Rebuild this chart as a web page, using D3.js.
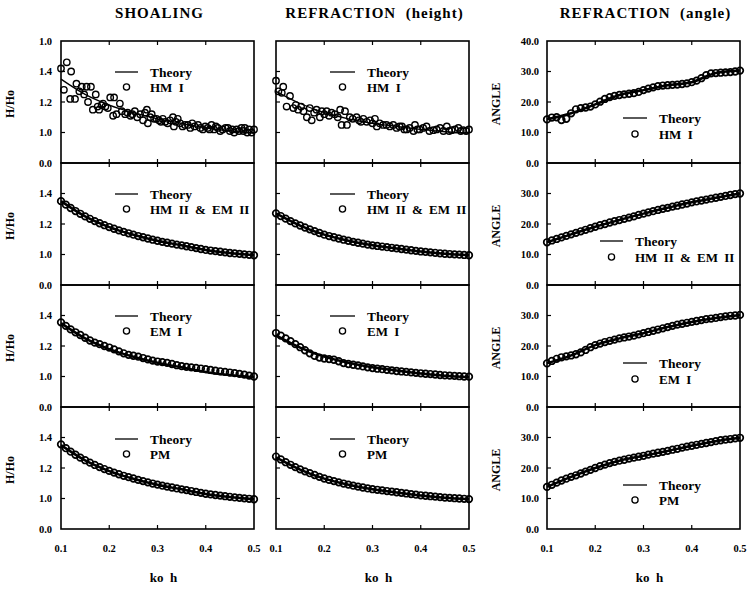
<!DOCTYPE html>
<html><head><meta charset="utf-8">
<script src="https://cdn.jsdelivr.net/npm/d3@7"></script>
<style>
html,body{margin:0;padding:0;background:#fff;}
svg text{font-family:"Liberation Serif","DejaVu Serif",serif;font-weight:bold;fill:#000;}
</style></head>
<body><svg id="c" width="748" height="589"></svg>
<script>
// ---------------- DATA ----------------
const columnTitles = ["SHOALING", "REFRACTION  (height)", "REFRACTION  (angle)"];
const rowSeries = ["HM I", "HM II & EM II", "EM I", "PM"];
const xTicks = [0.1, 0.2, 0.3, 0.4, 0.5];
const xTickLabels = ["0.1", "0.2", "0.3", "0.4", "0.5"];
const hTickVals = [0.8, 1.0, 1.2, 1.4];
const hTickLabels = ["0.0", "1.0", "1.2", "1.4"];
const hTopTickLabel = "1.0";
const aTickVals = [0, 10, 20, 30];
const aTickLabels = ["0.0", "10.0", "20.0", "30.0"];
const aTopTickLabel = "40.0";

const theoryKh = [0.10, 0.15, 0.20, 0.25, 0.30, 0.35, 0.40, 0.45, 0.50];
const shoalTheory = [1.35, 1.25, 1.18, 1.13, 1.09, 1.06, 1.03, 1.01, 0.995];
const refHTheory = [1.27, 1.19, 1.13, 1.09, 1.06, 1.04, 1.02, 1.005, 0.995];
const angleTheoryHM1 = [14.3, 16.3, 19.2, 22.3, 23.9, 25.5, 26.5, 29.5, 30.3];
const angleTheoryHM2 = [14.0, 16.6, 19.1, 21.3, 23.4, 25.3, 27.1, 28.6, 30.0];
const angleTheoryEM1 = [14.3, 16.9, 20.3, 22.5, 24.2, 26.2, 27.9, 29.2, 30.2];
const angleTheoryPM = [13.8, 17.1, 20.0, 22.4, 24.0, 25.6, 27.3, 28.8, 29.9];

const khGrid = [0.10,0.11,0.12,0.13,0.14,0.15,0.16,0.17,0.18,0.19,0.20,0.21,0.22,0.23,0.24,0.25,0.26,0.27,0.28,0.29,0.30,
  0.31,0.32,0.33,0.34,0.35,0.36,0.37,0.38,0.39,0.40,0.41,0.42,0.43,0.44,0.45,0.46,0.47,0.48,0.49,0.50];

// noisy HM I measurements [ko h, H/Ho]
const shoalHM1 = [[0.100,1.42],[0.106,1.28],[0.112,1.46],[0.119,1.22],[0.121,1.40],[0.129,1.22],[0.132,1.32],[0.138,1.27],
  [0.143,1.30],[0.148,1.25],[0.153,1.30],[0.156,1.20],[0.162,1.30],[0.166,1.15],[0.172,1.25],[0.176,1.17],[0.179,1.15],
  [0.184,1.18],[0.187,1.19],[0.192,1.17],[0.197,1.16],[0.202,1.23],[0.208,1.11],[0.210,1.23],[0.215,1.12],[0.222,1.19],
  [0.226,1.14],[0.233,1.12],[0.238,1.13],[0.244,1.11],[0.248,1.12],[0.253,1.14],[0.258,1.10],[0.264,1.12],[0.270,1.08],
  [0.274,1.13],[0.278,1.15],[0.280,1.06],[0.285,1.10],[0.288,1.12],[0.293,1.09],[0.298,1.09],[0.303,1.08],[0.307,1.07],
  [0.311,1.09],[0.316,1.07],[0.321,1.06],[0.326,1.08],[0.332,1.10],[0.334,1.04],[0.338,1.07],[0.342,1.09],[0.347,1.06],
  [0.352,1.04],[0.357,1.05],[0.363,1.05],[0.368,1.03],[0.372,1.06],[0.377,1.04],[0.384,1.05],[0.389,1.03],[0.394,1.02],
  [0.399,1.04],[0.404,1.03],[0.408,1.02],[0.412,1.05],[0.417,1.02],[0.421,1.04],[0.425,1.03],[0.430,1.01],[0.435,1.02],
  [0.441,1.03],[0.446,1.03],[0.450,1.01],[0.455,1.02],[0.459,1.00],[0.464,1.02],[0.469,1.01],[0.474,1.03],[0.478,1.01],
  [0.481,1.03],[0.486,1.00],[0.490,1.02],[0.495,1.00],[0.500,1.02]];
const refHHM1 = [[0.100,1.34],[0.105,1.27],[0.112,1.26],[0.115,1.30],[0.122,1.17],[0.129,1.24],[0.136,1.16],[0.141,1.18],
  [0.146,1.15],[0.152,1.17],[0.157,1.14],[0.164,1.10],[0.170,1.16],[0.174,1.08],[0.179,1.13],[0.184,1.15],[0.191,1.10],
  [0.195,1.14],[0.200,1.12],[0.205,1.14],[0.210,1.11],[0.215,1.13],[0.222,1.12],[0.228,1.10],[0.233,1.15],[0.236,1.05],
  [0.243,1.14],[0.247,1.05],[0.253,1.10],[0.259,1.09],[0.267,1.10],[0.272,1.08],[0.276,1.07],[0.281,1.09],[0.288,1.07],
  [0.295,1.08],[0.300,1.06],[0.305,1.09],[0.309,1.04],[0.315,1.06],[0.322,1.05],[0.329,1.05],[0.336,1.04],[0.343,1.05],
  [0.350,1.03],[0.356,1.04],[0.361,1.04],[0.366,1.02],[0.371,1.02],[0.377,1.03],[0.385,1.01],[0.388,1.05],[0.393,1.02],
  [0.398,1.02],[0.405,1.03],[0.412,1.04],[0.418,1.01],[0.426,1.015],[0.433,1.02],[0.440,1.03],[0.447,1.01],[0.454,1.04],
  [0.459,1.01],[0.464,1.015],[0.471,1.02],[0.478,1.03],[0.483,1.01],[0.488,1.015],[0.494,1.01],[0.500,1.02]];

// dense measurements on khGrid
const angleHM1 = [14.3,14.9,15.0,14.1,14.5,16.3,17.6,18.0,18.2,18.5,19.2,20.1,21.0,21.6,22.0,22.3,22.5,22.7,22.9,23.3,23.9,
  24.4,24.8,25.2,25.4,25.5,25.6,25.7,25.9,26.1,26.5,27.0,27.8,28.8,29.4,29.5,29.6,29.7,29.8,30.0,30.3];
const shoalHM2 = [1.350,1.327,1.305,1.285,1.267,1.250,1.234,1.219,1.205,1.192,1.180,1.169,1.158,1.148,1.139,1.130,1.121,
  1.113,1.105,1.097,1.090,1.083,1.077,1.071,1.065,1.060,1.054,1.048,1.042,1.036,1.030,1.026,1.022,1.018,1.014,1.010,1.007,
  1.004,1.001,0.998,0.995];
const refHHM2 = [1.270,1.252,1.235,1.219,1.204,1.190,1.177,1.165,1.153,1.141,1.130,1.121,1.113,1.105,1.097,1.090,1.083,
  1.077,1.071,1.065,1.060,1.056,1.052,1.048,1.044,1.040,1.036,1.032,1.028,1.024,1.020,1.017,1.014,1.011,1.008,1.005,1.003,
  1.001,0.999,0.997,0.995];
const angleHM2 = [14.0,14.6,15.1,15.6,16.1,16.6,17.1,17.6,18.1,18.6,19.1,19.6,20.0,20.5,20.9,21.3,21.7,22.1,22.5,23.0,23.4,
  23.8,24.2,24.6,25.0,25.3,25.7,26.0,26.4,26.7,27.1,27.4,27.7,28.0,28.3,28.6,28.9,29.2,29.5,29.8,30.0];
const shoalEM1 = [1.355,1.332,1.309,1.290,1.272,1.254,1.236,1.222,1.212,1.200,1.190,1.178,1.165,1.152,1.142,1.136,1.130,
  1.121,1.112,1.104,1.098,1.094,1.089,1.082,1.074,1.068,1.063,1.060,1.056,1.052,1.048,1.043,1.038,1.034,1.030,1.026,1.022,
  1.017,1.012,1.006,1.000];
const refHEM1 = [1.285,1.268,1.250,1.232,1.212,1.192,1.172,1.152,1.135,1.124,1.118,1.114,1.110,1.100,1.088,1.082,1.077,
  1.072,1.066,1.060,1.055,1.051,1.048,1.044,1.040,1.036,1.033,1.030,1.027,1.024,1.021,1.018,1.016,1.013,1.010,1.008,1.006,
  1.004,1.002,1.000,0.999];
const angleEM1 = [14.3,15.1,15.8,16.3,16.6,16.9,17.3,17.9,18.7,19.6,20.3,20.8,21.3,21.7,22.1,22.5,22.8,23.1,23.4,23.8,24.2,
  24.6,25.0,25.4,25.8,26.2,26.6,27.0,27.3,27.6,27.9,28.2,28.5,28.8,29.0,29.2,29.5,29.7,29.9,30.0,30.2];
const shoalPM = [1.355,1.330,1.307,1.287,1.268,1.251,1.235,1.220,1.206,1.193,1.181,1.170,1.159,1.149,1.140,1.131,1.122,
  1.114,1.106,1.098,1.091,1.084,1.078,1.072,1.066,1.060,1.055,1.049,1.043,1.037,1.031,1.027,1.023,1.019,1.015,1.011,1.007,
  1.004,1.001,0.998,0.995];
const refHPM = [1.275,1.256,1.238,1.221,1.206,1.191,1.178,1.166,1.154,1.142,1.131,1.122,1.114,1.106,1.098,1.091,1.084,
  1.078,1.072,1.066,1.061,1.057,1.053,1.049,1.045,1.041,1.037,1.033,1.029,1.025,1.021,1.018,1.015,1.012,1.009,1.006,1.004,
  1.002,1.000,0.998,0.996];
const anglePM = [13.8,14.5,15.2,15.9,16.5,17.1,17.6,18.2,18.8,19.4,20.0,20.6,21.1,21.6,22.0,22.4,22.7,23.1,23.4,23.7,24.0,
  24.4,24.7,25.0,25.3,25.6,26.0,26.3,26.7,27.0,27.3,27.6,27.9,28.2,28.5,28.8,29.1,29.3,29.5,29.7,29.9];

// ---------------- LAYOUT ----------------
const svg = d3.select("#c");
const colX = [61, 276, 547];
const panelW = 193;
const row0 = 41, rowH = 122;

const hDomain = [0.8, 1.6];
const aDomain = [0, 40];

const gridPairs = arr => arr.map((v, i) => [khGrid[i], v]);
const panels = [
  [ {type:"h", theory: shoalTheory, data: shoalHM1, dense:false}, {type:"h", theory: refHTheory, data: refHHM1, dense:false}, {type:"a", theory: angleTheoryHM1, data: gridPairs(angleHM1), dense:true} ],
  [ {type:"h", theory: shoalTheory, data: gridPairs(shoalHM2), dense:true}, {type:"h", theory: refHTheory, data: gridPairs(refHHM2), dense:true}, {type:"a", theory: angleTheoryHM2, data: gridPairs(angleHM2), dense:true} ],
  [ {type:"h", theory: shoalTheory, data: gridPairs(shoalEM1), dense:true}, {type:"h", theory: refHTheory, data: gridPairs(refHEM1), dense:true}, {type:"a", theory: angleTheoryEM1, data: gridPairs(angleEM1), dense:true} ],
  [ {type:"h", theory: shoalTheory, data: gridPairs(shoalPM), dense:true}, {type:"h", theory: refHTheory, data: gridPairs(refHPM), dense:true}, {type:"a", theory: angleTheoryPM, data: gridPairs(anglePM), dense:true} ]
];
// legend placement (relative to panel): [lineX0, lineX1, textX, theoryY, seriesY]
const legendPos = [
  [[54,77,89,31,46],[54,79,91,31,46],[76,100,112,77,93]],
  [[54,77,89,31,46],[54,79,91,31,46],[53,76,88,78,94]],
  [[54,77,89,31,46],[54,79,91,31,46],[76,100,112,78,94]],
  [[54,77,89,32,47],[54,79,91,32,47],[76,100,112,78,93]]
];

columnTitles.forEach((t, c) => {
  svg.append("text").attr("x", colX[c] + panelW/2 + 2).attr("y", 18)
    .attr("text-anchor", "middle").style("font-size", "15px").style("letter-spacing", "1px")
    .attr("xml:space", "preserve").text(t);
});

for (let r = 0; r < 4; r++) {
  const top = row0 + r * rowH;
  for (let c = 0; c < 3; c++) {
    const p = panels[r][c];
    const x0 = colX[c];
    const x = d3.scaleLinear().domain([0.1, 0.5]).range([x0, x0 + panelW]);
    const y = d3.scaleLinear().domain(p.type === "h" ? hDomain : aDomain).range([top + rowH, top]);
    const g = svg.append("g");

    // theory line
    const line = d3.line().x((d, i) => x(theoryKh[i])).y(d => y(d)).curve(d3.curveMonotoneX);
    g.append("path").datum(p.theory).attr("d", line).attr("fill", "none")
      .attr("stroke", "#000").attr("stroke-width", p.dense ? 2.5 : 1.3);
    // data circles
    g.selectAll("circle.d").data(p.data).join("circle")
      .attr("cx", d => x(d[0])).attr("cy", d => y(d[1])).attr("r", p.dense ? 3.3 : 3.2)
      .attr("fill", "none").attr("stroke", "#000").attr("stroke-width", p.dense ? 1.7 : 1.4);

    // frame
    g.append("rect").attr("x", x0).attr("y", top).attr("width", panelW).attr("height", rowH)
      .attr("fill", "none").attr("stroke", "#000").attr("stroke-width", 1.6);

    // x ticks inside, top and bottom
    const inner = xTicks.slice(1, -1);
    inner.forEach(t => {
      g.append("line").attr("x1", x(t)).attr("x2", x(t)).attr("y1", top + rowH).attr("y2", top + rowH - 4)
        .attr("stroke", "#000").attr("stroke-width", 1.2);
      g.append("line").attr("x1", x(t)).attr("x2", x(t)).attr("y1", top).attr("y2", top + 4)
        .attr("stroke", "#000").attr("stroke-width", 1.2);
    });
    // y ticks on left edge
    const tv = p.type === "h" ? hTickVals : aTickVals;
    tv.slice(1).forEach(t => {
      g.append("line").attr("x1", x0).attr("x2", x0 + 4).attr("y1", y(t)).attr("y2", y(t))
        .attr("stroke", "#000").attr("stroke-width", 1.2);
    });

    // y tick labels for left and right columns
    if (c !== 1) {
      const labs = p.type === "h" ? hTickLabels : aTickLabels;
      const lx = c === 0 ? x0 - 9 : x0 - 8;
      tv.forEach((t, i) => {
        g.append("text").attr("x", lx).attr("y", y(t) + 3.5).attr("text-anchor", "end")
          .style("font-size", "10.5px").text(labs[i]);
      });
      if (r === 0) {
        const topVal = p.type === "h" ? hDomain[1] : aDomain[1];
        g.append("text").attr("x", lx).attr("y", y(topVal) + 3.5).attr("text-anchor", "end")
          .style("font-size", "10.5px").text(p.type === "h" ? hTopTickLabel : aTopTickLabel);
      }
      const tx = c === 0 ? 14 : 500;
      const ty = top + rowH / 2 + 2;
      g.append("text").attr("transform", `translate(${tx},${ty}) rotate(-90)`)
        .attr("text-anchor", "middle").style("font-size", "12px")
        .text(p.type === "h" ? "H/Ho" : "ANGLE");
    }

    // x tick labels and title on bottom row
    if (r === 3) {
      xTicks.forEach((t, i) => {
        g.append("text").attr("x", x(t)).attr("y", top + rowH + 23).attr("text-anchor", "middle")
          .style("font-size", "10.5px").text(xTickLabels[i]);
      });
      g.append("text").attr("x", x0 + panelW/2 + 6).attr("y", top + rowH + 53).attr("text-anchor", "middle")
        .style("font-size", "13px").attr("xml:space", "preserve").text("ko  h");
    }

    // legend
    const L = legendPos[r][c];
    g.append("line").attr("x1", x0 + L[0]).attr("x2", x0 + L[1]).attr("y1", top + L[3]).attr("y2", top + L[3])
      .attr("stroke", "#000").attr("stroke-width", 1.3);
    g.append("text").attr("x", x0 + L[2]).attr("y", top + L[3] + 4.5).style("font-size", "13.5px").text("Theory");
    g.append("circle").attr("cx", x0 + (L[0] + L[1]) / 2).attr("cy", top + L[4]).attr("r", 3.1)
      .attr("fill", "none").attr("stroke", "#000").attr("stroke-width", 1.3);
    g.append("text").attr("x", x0 + L[2]).attr("y", top + L[4] + 4.5).style("font-size", "13px")
      .style("word-spacing", "3px").text(rowSeries[r]);
  }
}
</script></body></html>
